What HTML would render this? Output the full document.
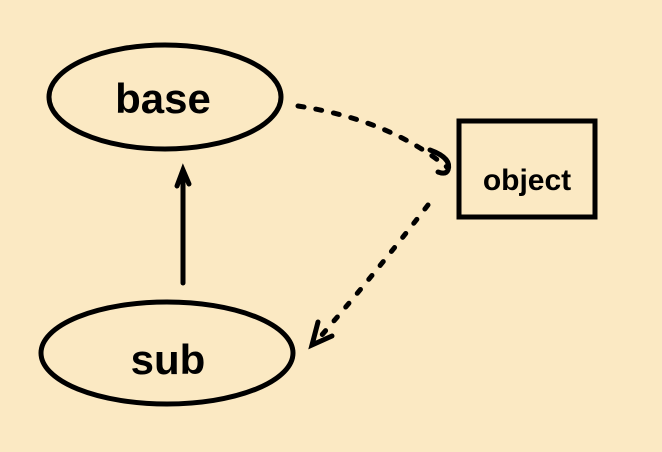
<!DOCTYPE html>
<html><head><style>
html,body{margin:0;padding:0;background:#fbe9c3;}
svg{display:block}
text{font-family:"Liberation Sans",sans-serif;font-weight:bold;fill:#000}
</style></head><body>
<svg width="662" height="452" viewBox="0 0 662 452" xmlns="http://www.w3.org/2000/svg">
<rect width="662" height="452" fill="#fbe9c3"/>
<g fill="none" stroke="#000" stroke-width="5" stroke-linecap="round">
<ellipse cx="165" cy="97" rx="116" ry="52"/>
<ellipse cx="167" cy="353" rx="126" ry="51"/>
<rect x="459" y="121" width="136" height="96"/>
<line x1="183" y1="283" x2="183" y2="172"/>
<path d="M177 186 L183 170 L189 184"/>
<path d="M298 106 Q390 120 448 168" stroke-dasharray="6 12"/>
<path d="M430 150 Q452 158 448 170 Q446 175 438 172"/>
<path d="M428 205 Q370 280 314 344" stroke-dasharray="5 13"/>
<path d="M318 322 L312 345 L332 336"/>
</g>
<text x="163" y="113" font-size="42" text-anchor="middle">base</text>
<text x="168" y="374" font-size="42" text-anchor="middle">sub</text>
<text x="527" y="190" font-size="30" text-anchor="middle">object</text>
</svg>
</body></html>
